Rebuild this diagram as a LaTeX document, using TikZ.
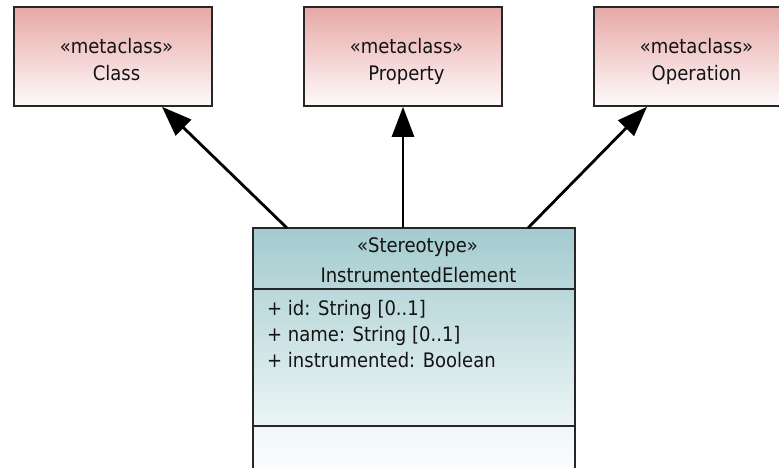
\documentclass[tikz,border=0pt]{standalone}
\usepackage{fontspec}
\setmainfont{DejaVu Sans Condensed}
\usetikzlibrary{arrows.meta,calc}
\definecolor{pinktop}{HTML}{E6A8A6}
\definecolor{pinkbot}{HTML}{FFFAFA}
\definecolor{tealtop}{HTML}{A3CBCF}
\definecolor{tealmid}{HTML}{ECF5F5}
\definecolor{tealbot}{HTML}{F7FBFB}
\definecolor{edge}{HTML}{262626}
\definecolor{txt}{HTML}{141414}
\tikzset{
  meta/.style={draw=edge, line width=1.8pt, rectangle, top color=pinktop, bottom color=pinkbot,
    minimum width=198pt, minimum height=99pt, anchor=north west, inner sep=0pt},
  ster/.style={draw=edge, line width=1.8pt, rectangle,
    minimum width=320pt, minimum height=262pt, anchor=north west, inner sep=0pt},
  lbl/.style={font=\fontsize{20pt}{22pt}\selectfont, text=txt, inner sep=0pt, anchor=base},
  attr/.style={font=\fontsize{20pt}{22pt}\selectfont, text=txt, inner sep=0pt, anchor=base west},
  divider/.style={draw=edge, line width=1.8pt},
  arr/.style={draw=black, line width=2.8pt, -{Triangle[length=30pt,width=22pt]}}
}
\begin{document}
\begin{tikzpicture}[x=1pt,y=-1pt]
\useasboundingbox (0,0) rectangle (779,467);
\fill[white] (0,0) rectangle (779,467);
% metaclass boxes
\node[meta] (cls) at (13,6) {};
\node[meta] (prop) at (303,6) {};
\node[meta, minimum width=204pt] (op) at (593,6) {};
\node[lbl] (clsS) at (116.5,53) {«metaclass»};
\node[lbl] (clsN) at (116.5,80) {Class};
\node[lbl] (propS) at (406.5,53) {«metaclass»};
\node[lbl] (propN) at (406.5,80) {Property};
\node[lbl] (opS) at (696.5,53) {«metaclass»};
\node[lbl] (opN) at (696.5,80) {Operation};
% stereotype box
\node[ster] (ie) at (253,228) {};
\shade[top color=tealtop, bottom color=tealmid] (ie.north west) rectangle ($(ie.north east)+(0,198)$);
\shade[top color=tealmid!60!tealbot, bottom color=white] ($(ie.north west)+(0,198)$) rectangle (ie.south east);
\draw[divider] ($(ie.north west)+(0,61)$) coordinate (d1l) -- (d1l -| ie.east);
\draw[divider] ($(ie.north west)+(0,198)$) coordinate (d2l) -- (d2l -| ie.east);
\draw[draw=edge, line width=1.8pt] (ie.north west) rectangle (ie.south east);
\node[lbl] (ieS) at (417.5,252) {«Stereotype»};
\node[lbl] (ieN) at (418.5,282) {InstrumentedElement};
\node[attr] (a1) at (267,315) {+ id: String [0..1]};
\node[attr] (a2) at (267,341) {+ name: String [0..1]};
\node[attr] (a3) at (267,367) {+ instrumented: Boolean};
% extension arrows
\draw[arr] ($(ie.north west)+(34,0)$) -- ($(cls.south west)+(149,0)$);
\draw[arr] ($(ie.north west)+(150,0)$) -- ($(prop.south west)+(100,0)$);
\draw[arr] ($(ie.north west)+(275,0)$) -- ($(op.south west)+(54,0)$);
\end{tikzpicture}
\end{document}
